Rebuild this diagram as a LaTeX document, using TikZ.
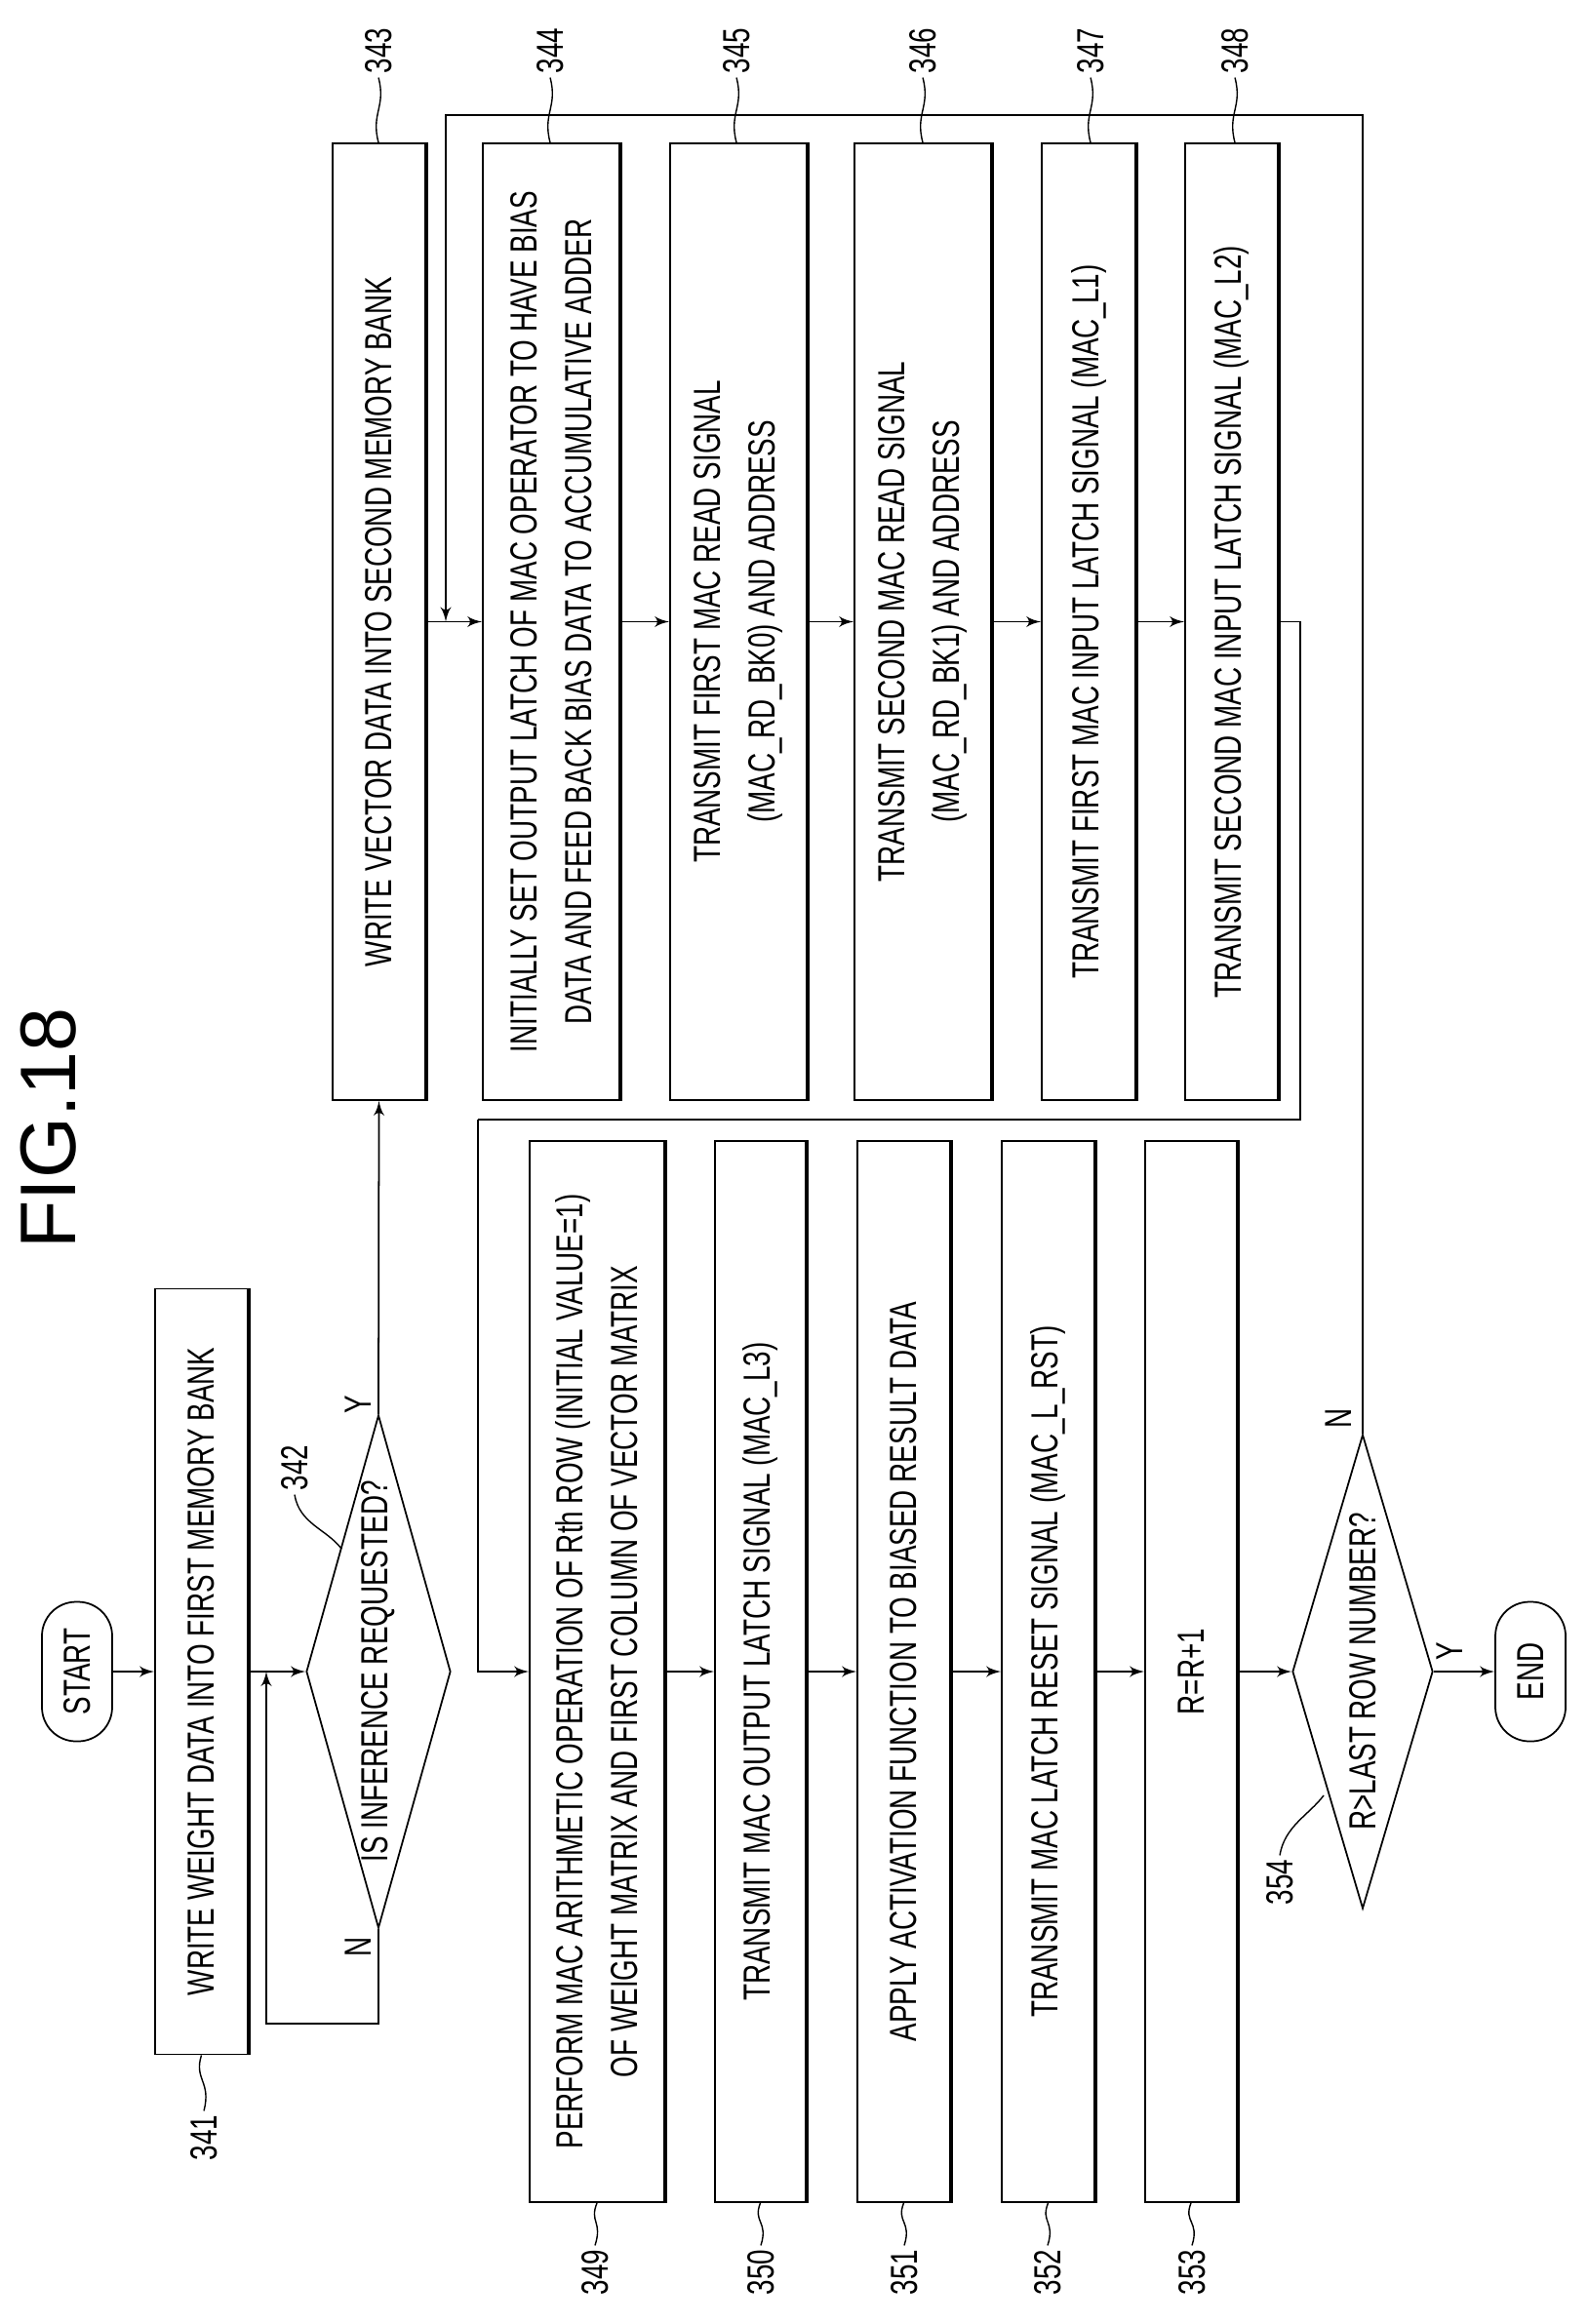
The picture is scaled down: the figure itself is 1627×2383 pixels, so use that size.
\documentclass[tikz,border=0pt]{standalone}
\usepackage{fontspec}
\setmainfont{Liberation Sans}[FakeStretch=0.72]
\newfontfamily\figfont{Liberation Sans}
\usetikzlibrary{shapes,arrows}
\tikzstyle{block} = [rectangle, draw, rotate=90, align=center, inner sep=0pt,
minimum width=98.1mm, font=\fontsize{11}{16}\selectfont]
\tikzstyle{decision} = [diamond, draw, rotate=90, inner sep=0pt, aspect=3.6,
font=\fontsize{11}{13}\selectfont]
\tikzstyle{terminal} = [rectangle, draw, rounded corners=3.5mm, rotate=90,
minimum width=14.3mm, minimum height=7.2mm, font=\fontsize{11}{13}\selectfont]
\tikzstyle{line} = [draw, -latex']
\tikzstyle{num} = [rotate=90, inner sep=1pt, font=\fontsize{11}{13}\selectfont]
\tikzstyle{lead} = [draw, thin]
\tikzstyle{heavy} = [draw, line width=1.1pt]

\begin{document}
\begin{tikzpicture}[x=0.1mm, y=-0.1mm, line width=0.5pt]
\useasboundingbox (0,0) rectangle (1627,2383);

\node [rotate=90, font=\figfont\fontsize{23}{25}\selectfont] (fig) at (50,1157) {FIG.18};

% Place nodes
\node [terminal] (start) at (79,1714) {START};
\node [block, minimum width=78.5mm, minimum height=9.5mm] (w341) at (206.5,1714) {WRITE WEIGHT DATA INTO FIRST MEMORY BANK};
\node [decision, minimum width=52.6mm, minimum height=14.8mm] (q342) at (388,1714) {IS INFERENCE REQUESTED?};
\node [block, minimum height=9.5mm] (w343) at (388.5,637.5) {WRITE VECTOR DATA INTO SECOND MEMORY BANK};
\node [block, minimum height=14mm] (i344) at (565,637.5) {INITIALLY SET OUTPUT LATCH OF MAC OPERATOR TO HAVE BIAS\\DATA AND FEED BACK BIAS DATA TO ACCUMULATIVE ADDER};
\node [block, minimum height=14mm] (t345) at (757,637.5) {TRANSMIT FIRST MAC READ SIGNAL\\(MAC\_RD\_BK0) AND ADDRESS};
\node [block, minimum height=14mm] (t346) at (946,637.5) {TRANSMIT SECOND MAC READ SIGNAL\\(MAC\_RD\_BK1) AND ADDRESS};
\node [block, minimum height=9.6mm] (t347) at (1116,637.5) {TRANSMIT FIRST MAC INPUT LATCH SIGNAL (MAC\_L1)};
\node [block, minimum height=9.5mm] (t348) at (1262.5,637.5) {TRANSMIT SECOND MAC INPUT LATCH SIGNAL (MAC\_L2)};
\node [block, minimum width=108.8mm, minimum height=13.8mm] (p349) at (612,1714) {PERFORM MAC ARITHMETIC OPERATION OF Rth ROW (INITIAL VALUE=1)\\OF WEIGHT MATRIX AND FIRST COLUMN OF VECTOR MATRIX};
\node [block, minimum width=108.8mm, minimum height=9.3mm] (t350) at (779.5,1714) {TRANSMIT MAC OUTPUT LATCH SIGNAL (MAC\_L3)};
\node [block, minimum width=108.8mm, minimum height=9.5mm] (a351) at (926.5,1714) {APPLY ACTIVATION FUNCTION TO BIASED RESULT DATA};
\node [block, minimum width=108.8mm, minimum height=9.5mm] (t352) at (1074.5,1714) {TRANSMIT MAC LATCH RESET SIGNAL (MAC\_L\_RST)};
\node [block, minimum width=108.8mm, minimum height=9.4mm] (r353) at (1221,1714) {R=R+1};
\node [decision, minimum width=48.6mm, minimum height=14.4mm] (q354) at (1397,1714) {R>LAST ROW NUMBER?};
\node [terminal] (end) at (1569,1714) {END};

% Heavy right edges
\foreach \n in {w341,w343,i344,t345,t346,t347,t348,p349,t350,a351,t352,r353}
  \path [heavy] (\n.south west) -- (\n.south east);

% Reference numerals
\node [num] (l341) at (209,2192) {341};
\node [num] (l342) at (302,1505) {342};
\node [num] (l343) at (388,52) {343};
\node [num] (l344) at (564,52) {344};
\node [num] (l345) at (755,52) {345};
\node [num] (l346) at (946,52) {346};
\node [num] (l347) at (1118,52) {347};
\node [num] (l348) at (1266,52) {348};
\node [num] (l349) at (610,2330) {349};
\node [num] (l350) at (780,2330) {350};
\node [num] (l351) at (927,2330) {351};
\node [num] (l352) at (1074,2330) {352};
\node [num] (l353) at (1222,2330) {353};
\node [num] (l354) at (1312,1930) {354};
\coordinate (e342) at (350,1588);
\coordinate (e354) at (1357,1841);
\foreach \n/\b in {343/w343,344/i344,345/t345,346/t346,347/t347,348/t348}
  \path [lead] (l\n.west) .. controls +(8,30) and +(-8,-30) .. (\b.east -| l\n);
\path [lead] (l341.east) .. controls +(8,-30) and +(-8,25) .. (w341.west);
\foreach \n/\b in {349/p349,350/t350,351/a351,352/t352,353/r353}
  \path [lead] (l\n.east) .. controls +(8,-25) and +(-8,20) .. (\b.west);
\path [lead] (l342.west) .. controls +(5,30) and +(-15,-20) .. (e342);
\path [lead] (l354.east) .. controls +(5,-30) and +(-15,20) .. (e354);

% Yes/No labels
\node [num] (y342) at (367,1440) {Y};
\node [num] (n342) at (367,1996) {N};
\node [num] (n354) at (1372,1454) {N};
\node [num] (y354) at (1486,1693) {Y};

% Draw edges
\coordinate (nl) at (273,2075);
\coordinate (jl) at (273,1714);
\coordinate (ntop) at (457,118);
\coordinate (njoin) at (457,637.5);
\coordinate (ra) at (1333,637.5);
\coordinate (rb) at (1333,1148);
\coordinate (lb) at (490,1148);
\path [line] (start) -- (w341);
\path [line] (w341) -- (q342);
\path [line] (q342.west) |- (nl) -- (jl);
\path [line] (q342.east) -- (w343.west);
\path [line] (w343) -- (i344);
\path [line] (i344) -- (t345);
\path [line] (t345) -- (t346);
\path [line] (t346) -- (t347);
\path [line] (t347) -- (t348);
\path [draw] (t348) -- (ra) -- (rb) -- (lb);
\path [line] (lb) |- (p349);
\path [line] (p349) -- (t350);
\path [line] (t350) -- (a351);
\path [line] (a351) -- (t352);
\path [line] (t352) -- (r353);
\path [line] (r353) -- (q354);
\path [line] (q354) -- (end);
\path [line] (q354.east) |- (ntop) -- (njoin);
\end{tikzpicture}
\end{document}
